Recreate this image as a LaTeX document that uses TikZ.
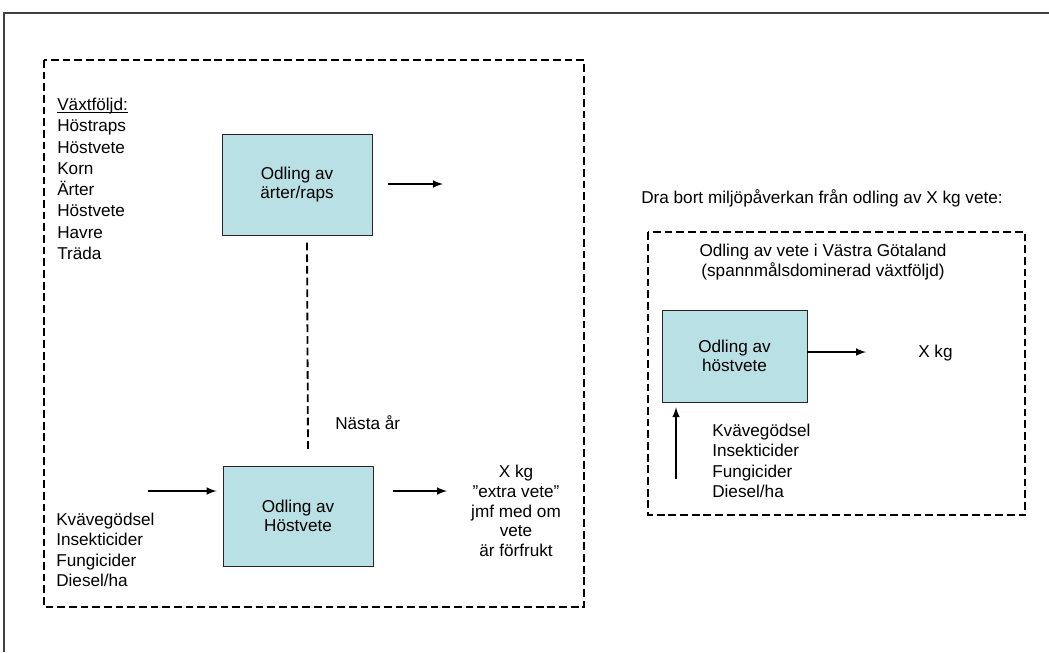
\documentclass[tikz,border=0pt]{standalone}
\usepackage{fontspec}
\setmainfont{Liberation Sans}
\usetikzlibrary{arrows,shapes,positioning}
\definecolor{cropblue}{RGB}{185,224,228}

\begin{document}
\begin{tikzpicture}[x=0.025cm, y=-0.025cm, >=latex,
  font=\fontsize{12.2}{14.6}\selectfont,
  crop/.style={rectangle, draw=black!85, line width=0.6pt, fill=cropblue, align=center,
    minimum width=3.75cm, minimum height=2.5cm, font=\fontsize{12.2}{14}\selectfont},
  dashbox/.style={draw, line width=1.5pt, dash pattern=on 5.5pt off 2.8pt},
  flow/.style={->, line width=1.4pt},
  txt/.style={inner sep=0pt, align=left}]
  \useasboundingbox (0,0) rectangle (1049,652);
  \draw[black!75, line width=0.8pt] (4,652) -- (4,13) -- (1049,13);

  % left: crop rotation
  \draw[dashbox] (44,60) rectangle (584,607);
  \node (rotation) [txt, anchor=west, font=\fontsize{12.2}{15.1}\selectfont] at (57,185) {\underline{\smash{Växtföljd:}}\\Höstraps\\Höstvete\\Korn\\Ärter\\Höstvete\\Havre\\Träda};
  \node (peas) [crop, minimum height=2.525cm] at (297,184.5) {Odling av\\ärter/raps};
  \node (wheat) [crop] at (298,516) {Odling av\\Höstvete};
  \node (nextyear) [txt, anchor=west] at (335,423) {Nästa år};
  \node (inputs) [txt, anchor=west] at (56,550) {Kvävegödsel\\Insekticider\\Fungicider\\Diesel/ha};
  \node (extra) [txt, align=center, font=\fontsize{12.2}{14}\selectfont] at (516,511) {X kg\\"extra vete"\\jmf med om\\vete\\ är förfrukt};

  \coordinate (peas-from) at (388,184);
  \coordinate (peas-to) at (443,184);
  \coordinate (inputs-from) at (148,491);
  \coordinate (wheat-from) at (393,491);
  \coordinate (wheat-to) at (447,491);

  \draw[flow] (peas-from) -- (peas-to);
  \draw[flow, shorten >=0.15cm] (inputs-from) -- (inputs-from -| wheat.west);
  \draw[flow] (wheat-from) -- (wheat-to);
  \draw[dashbox, line width=1.3pt] ([xshift=0.25cm, yshift=-0.18cm]peas.south) -- ([xshift=0.25cm, yshift=0.4cm]wheat.north);

  % right: subtract
  \node (subtract) [txt, anchor=west] at (641,198) {Dra bort miljöpåverkan från odling av X kg vete:};
  \draw[dashbox] (648,232) rectangle (1025,515);
  \node (region) [txt, align=center, font=\fontsize{12.2}{14}\selectfont] at (823,262) {Odling av vete i Västra Götaland\\ (spannmålsdominerad växtföljd)};
  \node (wheat2) [crop, minimum width=3.625cm, minimum height=2.3cm] at (734.5,356) {Odling av\\höstvete};
  \node (xkg) [txt, anchor=west] at (918,353) {X kg};
  \node (inputs2) [txt, anchor=west] at (712,461) {Kvävegödsel\\Insekticider\\Fungicider\\Diesel/ha};

  \coordinate (wheat2-to) at (866,352);
  \coordinate (inputs2-from) at (676,479);
  \draw[flow] (wheat2.east |- wheat2-to) -- (wheat2-to);
  \draw[flow, shorten >=0.12cm] (inputs2-from) -- (inputs2-from |- wheat2.south);
\end{tikzpicture}
\end{document}
